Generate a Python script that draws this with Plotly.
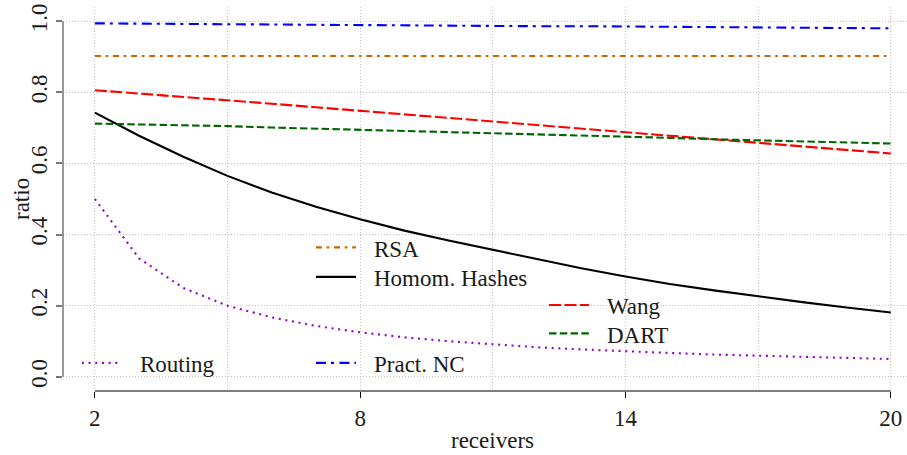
import plotly.graph_objects as go

# receivers on the x axis
receivers = list(range(2, 21))

# ratio for each scheme, one value per receiver count 2..20
pract_nc = [0.994, 0.993, 0.992, 0.992, 0.991, 0.990, 0.989, 0.989, 0.988, 0.987,
            0.986, 0.986, 0.985, 0.984, 0.983, 0.983, 0.982, 0.981, 0.980]
rsa = [0.902] * 19
wang = [0.806, 0.797, 0.787, 0.778, 0.768, 0.758, 0.748, 0.738, 0.728, 0.718,
        0.708, 0.698, 0.688, 0.678, 0.668, 0.658, 0.648, 0.638, 0.628]
dart = [0.712, 0.710, 0.707, 0.705, 0.701, 0.698, 0.694, 0.691, 0.687, 0.684,
        0.681, 0.678, 0.675, 0.672, 0.668, 0.665, 0.662, 0.659, 0.656]
homom_hashes = [0.743, 0.678, 0.619, 0.565, 0.518, 0.478, 0.443, 0.411, 0.383, 0.357,
                0.331, 0.305, 0.282, 0.261, 0.243, 0.226, 0.210, 0.195, 0.181]
routing = [0.500, 0.333, 0.250, 0.200, 0.167, 0.143, 0.125, 0.111, 0.100, 0.091,
           0.083, 0.077, 0.071, 0.067, 0.0625, 0.059, 0.056, 0.053, 0.050]

x_ticks = [2, 8, 14, 20]
x_minor = [5, 11, 17]
y_ticks = [0.0, 0.2, 0.4, 0.6, 0.8, 1.0]

FONT = "Liberation Serif"
FONT_SIZE = 23
TEXT_COLOR = "#1a1a1a"
GRID = "#c4c4c4"

series = [
    ("RSA", rsa, "#CD6600", "6px,4.7px,2.7px,4.7px"),
    ("Homom. Hashes", homom_hashes, "#000000", "solid"),
    ("Wang", wang, "#FF0000", "12px,3.5px"),
    ("DART", dart, "#006400", "7.5px,3.3px"),
    ("Routing", routing, "#9400D3", "2px,4.7px"),
    ("Pract. NC", pract_nc, "#0000FF", "10px,5px,3px,5.5px"),
]

fig = go.Figure()
for name, vals, color, dash in series:
    fig.add_trace(go.Scatter(
        x=receivers, y=vals, name=name, mode="lines",
        line=dict(color=color, width=2.1, dash=dash),
        showlegend=False,
    ))

# legend blocks drawn inside the plot: (line start x, [(series, row y), ...])
legend_blocks = [
    (7.0, [("RSA", 0.364), ("Homom. Hashes", 0.281)]),
    (12.27, [("Wang", 0.202), ("DART", 0.122)]),
    (1.706, [("Routing", 0.039)]),
    (7.0, [("Pract. NC", 0.039)]),
]
style = {name: (color, dash) for name, _, color, dash in series}
SAMPLE_LEN = 0.905
TEXT_GAP = 1.27

shapes = []
annotations = []
for x0, rows in legend_blocks:
    for name, yrow in rows:
        color, dash = style[name]
        shapes.append(dict(type="line", xref="x", yref="y",
                           x0=x0, x1=x0 + SAMPLE_LEN, y0=yrow, y1=yrow,
                           line=dict(color=color, width=2.1, dash=dash)))
        annotations.append(dict(xref="x", yref="y", x=x0 + TEXT_GAP, y=yrow,
                                text=name, showarrow=False, xanchor="left",
                                yanchor="middle", yshift=-2,
                                font=dict(family=FONT, size=FONT_SIZE)))

# axis lines spanning only the tick range
shapes.append(dict(type="line", xref="paper", yref="y", x0=0, x1=0,
                   y0=min(y_ticks), y1=max(y_ticks),
                   line=dict(color="#777777", width=1.5)))
shapes.append(dict(type="line", xref="x", yref="paper", x0=min(x_ticks), x1=max(x_ticks),
                   y0=0, y1=0, line=dict(color="#000000", width=1.2)))

# axis titles
annotations.append(dict(xref="x", yref="paper", x=11, y=0, yanchor="middle",
                        yshift=-49, text="receivers", showarrow=False,
                        font=dict(family=FONT, size=FONT_SIZE)))
annotations.append(dict(xref="paper", yref="paper", x=0, y=0.5, xanchor="center",
                        xshift=-42, text="ratio", textangle=-90, showarrow=False,
                        font=dict(family=FONT, size=FONT_SIZE)))

fig.update_layout(
    width=907, height=455,
    margin=dict(l=63, r=0, t=7, b=64, pad=0),
    font=dict(family=FONT, size=FONT_SIZE, color=TEXT_COLOR),
    plot_bgcolor="white", paper_bgcolor="white",
    shapes=shapes, annotations=annotations,
    showlegend=False,
)
fig.update_xaxes(
    range=[1.28, 20.366], tickvals=x_ticks, ticks="outside", ticklen=6,
    tickcolor="#000000", tickwidth=1, showline=False, zeroline=False,
    showgrid=True, gridcolor=GRID, griddash="1px,2px", gridwidth=1,
    minor=dict(tickvals=x_minor, showgrid=True, gridcolor=GRID,
               griddash="1px,2px", gridwidth=1, ticks=""),
)
fig.update_yaxes(
    range=[-0.04, 1.04], tickvals=y_ticks, tickformat=".1f", tickangle=-90,
    ticks="outside", ticklen=6, tickcolor="#777777", tickwidth=1.5,
    showline=False, zeroline=False,
    showgrid=True, gridcolor=GRID, griddash="1px,2px", gridwidth=1,
)

fig.write_html("out.html")
